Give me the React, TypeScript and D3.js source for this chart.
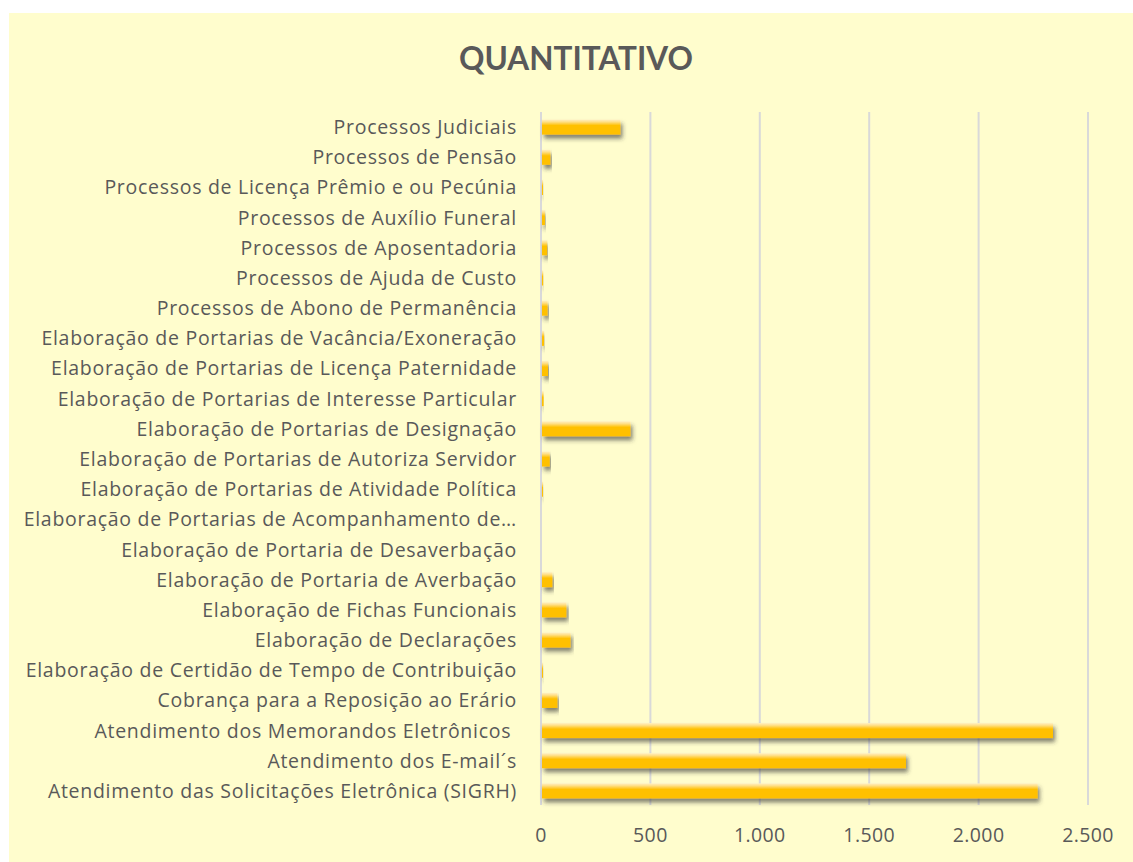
import React from "react";
import * as d3 from "d3";

// Atendimentos e processos do período, de cima para baixo no gráfico
const categorias: string[] = [
  "Processos Judiciais",
  "Processos de Pensão",
  "Processos de Licença Prêmio e ou Pecúnia",
  "Processos de Auxílio Funeral",
  "Processos de Aposentadoria",
  "Processos de Ajuda de Custo",
  "Processos de Abono de Permanência",
  "Elaboração de Portarias de Vacância/Exoneração",
  "Elaboração de Portarias de Licença Paternidade",
  "Elaboração de Portarias de Interesse Particular",
  "Elaboração de Portarias de Designação",
  "Elaboração de Portarias de Autoriza Servidor",
  "Elaboração de Portarias de Atividade Política",
  "Elaboração de Portarias de Acompanhamento de…",
  "Elaboração de Portaria de Desaverbação",
  "Elaboração de Portaria de Averbação",
  "Elaboração de Fichas Funcionais",
  "Elaboração de Declarações",
  "Elaboração de Certidão de Tempo de Contribuição",
  "Cobrança para a Reposição ao Erário",
  "Atendimento dos Memorandos Eletrônicos ",
  "Atendimento dos E-mail´s",
  "Atendimento das Solicitações Eletrônica (SIGRH)",
];

const quantidades: number[] = [
  363, 43, 4, 18, 28, 10, 30, 14, 32, 12, 409, 40, 5, 0, 0, 52, 116, 135, 6, 75,
  2340, 1668, 2270,
];

const ticks: number[] = [0, 500, 1000, 1500, 2000, 2500];

const titulo = "QUANTITATIVO";

const W = 1133;
const H = 862;
const FONT = "'Open Sans', 'Noto Sans', sans-serif";
const TITLE_FONT = "Lato, 'Open Sans', sans-serif";
const TEXT = "#595959";

const x = d3.scaleLinear().domain([0, 2500]).range([541, 1088]);
const y = d3
  .scaleBand<string>()
  .domain(categorias)
  .range([112, 806])
  .paddingInner(0.5)
  .paddingOuter(0.25);

const fmt = (v: number) => d3.format(",")(v).replace(/,/g, ".");

export default function App() {
  const dados = categorias.map((c, i) => ({ c, v: quantidades[i] }));
  return (
    <div style={{ position: "absolute", left: 0, top: 0 }}>
      <svg width={W} height={H} style={{ display: "block" }}>
        <defs>
          <linearGradient id="barra" x1="0" y1="0" x2="0" y2="1">
            <stop offset="0" stopColor="#FFF0C2" />
            <stop offset="0.15" stopColor="#FFE08A" />
            <stop offset="0.4" stopColor="#FFC000" />
            <stop offset="1" stopColor="#FFC000" />
          </linearGradient>
          <filter id="sombra" x="-5%" y="-40%" width="115%" height="200%">
            <feDropShadow dx="2" dy="4" stdDeviation="2.3" floodColor="#333333" floodOpacity="0.6" />
          </filter>
        </defs>
        <rect x={0} y={0} width={W} height={H} fill="#ffffff" />
        <rect x={9} y={13} width={W - 9} height={H - 13} fill="#FFFDCD" />

        <text
          x={576}
          y={70}
          textAnchor="middle"
          fontFamily={TITLE_FONT}
          fontWeight={700}
          fontSize={31.5}
          fill={TEXT}
        >
          {titulo}
        </text>

        {/* grade vertical */}
        {ticks.map((t) => (
          <line
            key={t}
            x1={x(t)}
            x2={x(t)}
            y1={112}
            y2={805}
            stroke="#D9D9D9"
            strokeWidth={2}
          />
        ))}

        {/* barras */}
        {dados.map((d) =>
          d.v > 0 ? (
            <rect
              key={d.c}
              x={x(0) + 1}
              y={y(d.c)}
              width={Math.max(1, x(d.v) - x(0) - 1)}
              height={y.bandwidth()}
              fill="url(#barra)"
              filter="url(#sombra)"
            />
          ) : null
        )}

        {/* rótulos das categorias */}
        {dados.map((d) => (
          <text
            key={"l" + d.c}
            x={517}
            y={(y(d.c) as number) + y.bandwidth() / 2}
            dy="0.36em"
            textAnchor="end"
            fontFamily={FONT}
            fontSize={19.5}
            letterSpacing={0.72}
            fill={TEXT}
            style={{ whiteSpace: "pre" }}
          >
            {d.c}
          </text>
        ))}

        {/* eixo de valores */}
        {ticks.map((t) => (
          <text
            key={"t" + t}
            x={x(t)}
            y={835}
            dy="0.36em"
            textAnchor="middle"
            fontFamily={FONT}
            fontSize={19.5}
            letterSpacing={0.4}
            fill={TEXT}
          >
            {fmt(t)}
          </text>
        ))}
      </svg>
    </div>
  );
}
